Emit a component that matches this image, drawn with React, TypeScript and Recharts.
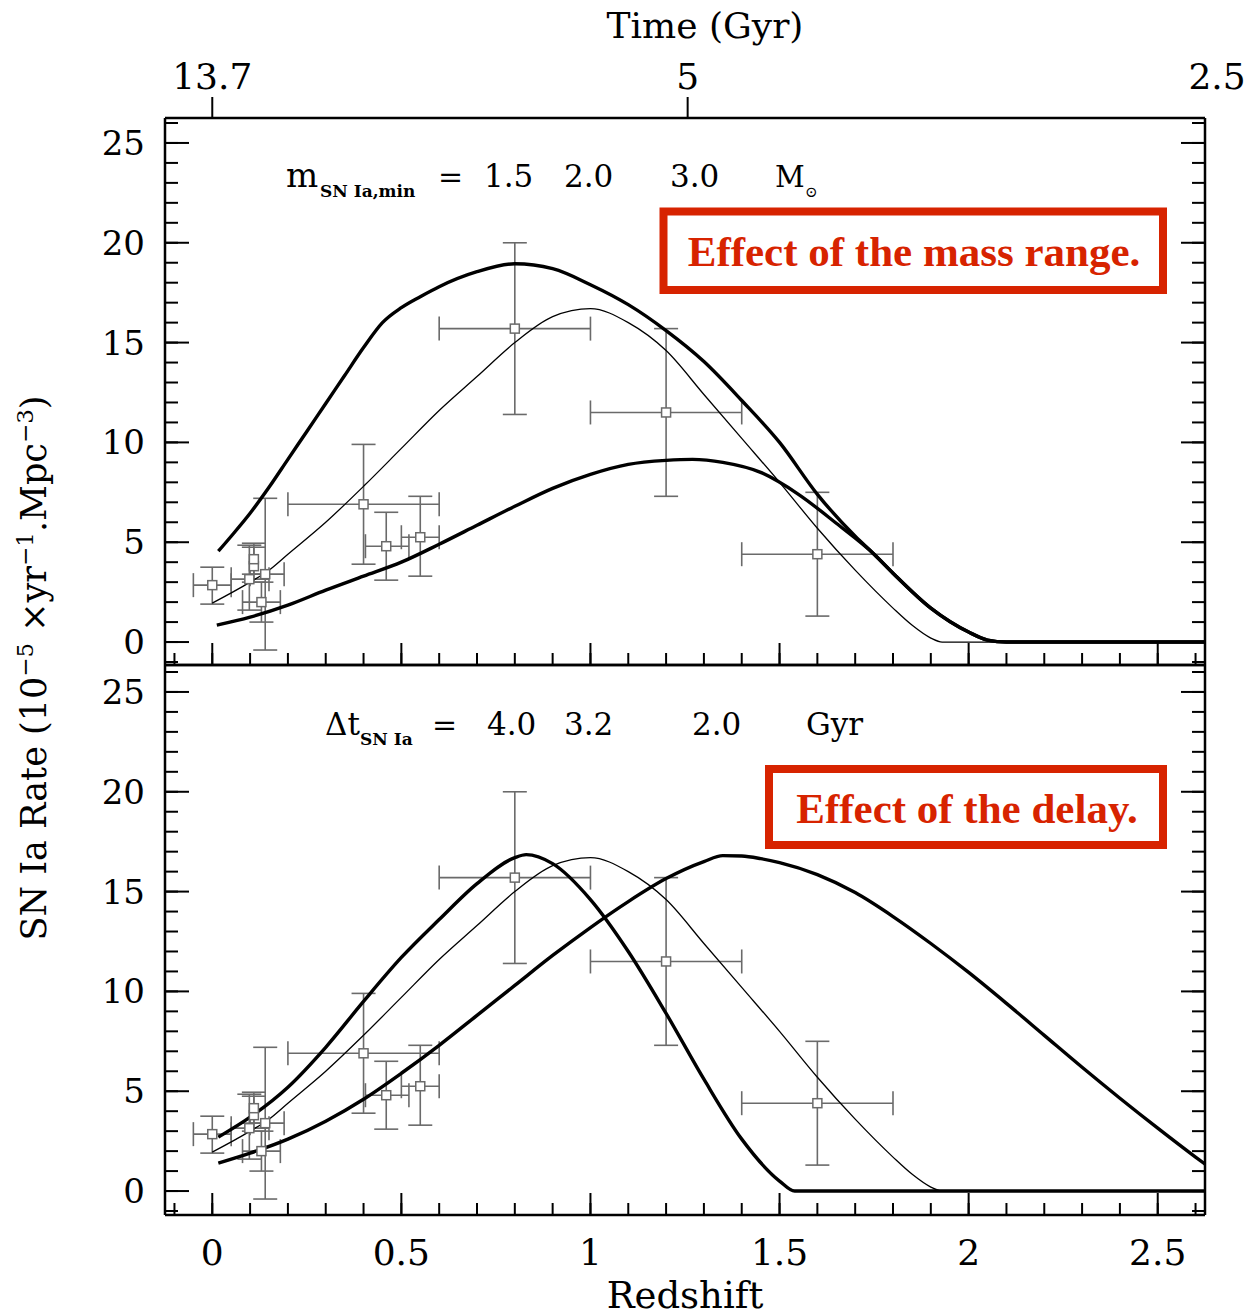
import React from 'react';
import { ComposedChart, Line, Scatter, XAxis, YAxis, ErrorBar } from 'recharts';

const FONT = "'DejaVu Serif', serif";
const RED = '#d72300';
const GRAY = '#6a6a6a';

// ---------- axes ----------
const redshiftDomain: [number, number] = [-0.125, 2.625];
const redshiftMajorTicks = [0, 0.5, 1, 1.5, 2, 2.5];
const redshiftMinorTicks = [-0.1, 0, 0.1, 0.2, 0.3, 0.4, 0.5, 0.6, 0.7, 0.8, 0.9, 1, 1.1, 1.2, 1.3, 1.4, 1.5, 1.6, 1.7, 1.8, 1.9, 2, 2.1, 2.2, 2.3, 2.4, 2.5, 2.6];
const timeTickRedshift = [0, 1.257, 2.657];
const timeTickLabels = ['13.7', '5', '2.5'];
const rateTopDomain: [number, number] = [-1.15, 26.25];
const rateBottomDomain: [number, number] = [-1.2, 26.35];
const rateMajorTicks = [0, 5, 10, 15, 20, 25];
const rateMinorTicks = [-1, 0, 1, 2, 3, 4, 5, 6, 7, 8, 9, 10, 11, 12, 13, 14, 15, 16, 17, 18, 19, 20, 21, 22, 23, 24, 25, 26];

// ---------- observations ----------
const obsRedshift = [0.0, 0.098, 0.11, 0.11, 0.14, 0.13, 0.4, 0.46, 0.55, 0.8, 1.2, 1.6];
const obsRate = [2.85, 3.15, 3.8, 4.15, 3.4, 2.0, 6.9, 4.8, 5.25, 15.7, 11.5, 4.4];
const obsRedshiftLow = [-0.05, 0.05, 0.11, 0.11, 0.1, 0.08, 0.2, 0.405, 0.5, 0.6, 1.0, 1.4];
const obsRedshiftHigh = [0.05, 0.15, 0.11, 0.11, 0.19, 0.18, 0.6, 0.52, 0.6, 1.0, 1.4, 1.8];
const obsRateLow = [1.9, 1.6, 3.0, 3.4, -0.4, 1.0, 3.9, 3.1, 3.3, 11.4, 7.3, 1.3];
const obsRateHigh = [3.75, 4.85, 4.75, 4.95, 7.2, 3.0, 9.9, 6.5, 7.3, 20.0, 15.7, 7.5];

// ---------- top panel models (m_SN Ia,min) ----------
const massA_z = [0.016, 0.05, 0.1, 0.15, 0.2, 0.25, 0.3, 0.35, 0.4, 0.45, 0.5, 0.55, 0.6, 0.7, 0.8, 0.9, 1.0, 1.1, 1.2, 1.3, 1.4, 1.5, 1.6, 1.7, 1.75, 1.8, 1.9, 2.0, 2.05, 2.1, 2.625];
const massA_rate = [4.55, 5.3, 6.45, 7.75, 9.15, 10.55, 11.95, 13.35, 14.75, 16.0, 16.75, 17.3, 17.8, 18.55, 18.95, 18.7, 17.9, 16.9, 15.6, 14.05, 12.1, 10.0, 7.4, 5.3, 4.4, 3.45, 1.7, 0.5, 0.1, 0, 0];
const massB_z = [0.0, 0.1, 0.15, 0.2, 0.3, 0.4, 0.5, 0.6, 0.7, 0.8, 0.9, 1.0, 1.1, 1.2, 1.3, 1.4, 1.5, 1.6, 1.7, 1.8, 1.85, 1.9, 1.93, 2.625];
const massB_rate = [1.95, 3.0, 3.6, 4.4, 6.0, 7.8, 9.7, 11.6, 13.3, 15.0, 16.3, 16.7, 16.0, 14.6, 12.4, 10.2, 8.0, 5.7, 3.6, 1.7, 0.85, 0.2, 0, 0];
const massC_z = [0.012, 0.1, 0.2, 0.3, 0.4, 0.5, 0.6, 0.7, 0.8, 0.9, 1.0, 1.1, 1.2, 1.27, 1.35, 1.45, 1.55, 1.65, 1.75, 1.8, 1.9, 2.0, 2.05, 2.1, 2.625];
const massC_rate = [0.85, 1.25, 1.85, 2.6, 3.3, 4.0, 4.9, 5.85, 6.8, 7.7, 8.4, 8.9, 9.1, 9.15, 9.0, 8.5, 7.4, 5.95, 4.4, 3.45, 1.7, 0.5, 0.1, 0, 0];

// ---------- bottom panel models (delay) ----------
const delay40_z = [0.016, 0.1, 0.2, 0.3, 0.4, 0.5, 0.6, 0.7, 0.8, 0.83, 0.9, 1.0, 1.1, 1.2, 1.3, 1.4, 1.5, 1.54, 2.625];
const delay40_rate = [2.7, 3.7, 5.2, 7.2, 9.5, 11.7, 13.6, 15.4, 16.7, 16.85, 16.4, 14.6, 12.0, 8.9, 5.6, 2.6, 0.5, 0, 0];
const delay32_z = massB_z;
const delay32_rate = massB_rate;
const delay20_z = [0.016, 0.1, 0.2, 0.3, 0.4, 0.5, 0.6, 0.7, 0.8, 0.9, 1.0, 1.1, 1.2, 1.3, 1.35, 1.4, 1.45, 1.5, 1.6, 1.7, 1.8, 1.9, 2.0, 2.1, 2.2, 2.3, 2.4, 2.5, 2.6, 2.625];
const delay20_rate = [1.4, 1.9, 2.6, 3.5, 4.6, 5.9, 7.3, 8.8, 10.3, 11.8, 13.2, 14.5, 15.65, 16.5, 16.8, 16.78, 16.65, 16.45, 15.85, 14.95, 13.75, 12.4, 10.95, 9.4, 7.8, 6.2, 4.65, 3.15, 1.7, 1.35];

const toSeries = (zs: number[], rs: number[]) => zs.map((z, i) => ({ z, y: rs[i] }));

const obsData = obsRedshift.map((z, i) => ({
  z,
  y: obsRate[i],
  zErr: obsRedshiftLow[i] === obsRedshiftHigh[i] ? null : [z - obsRedshiftLow[i], obsRedshiftHigh[i] - z],
  yErr: [obsRate[i] - obsRateLow[i], obsRateHigh[i] - obsRate[i]],
}));

const topCurves = [
  { data: toSeries(massA_z, massA_rate), width: 3.4 },
  { data: toSeries(massB_z, massB_rate), width: 1.3 },
  { data: toSeries(massC_z, massC_rate), width: 3.4 },
];
const bottomCurves = [
  { data: toSeries(delay40_z, delay40_rate), width: 3.4 },
  { data: toSeries(delay32_z, delay32_rate), width: 1.3 },
  { data: toSeries(delay20_z, delay20_rate), width: 3.4 },
];

const W = 1251;

const SquareShape = (props: any) => {
  const { cx, cy } = props;
  if (cx == null || cy == null) return <g />;
  return <rect x={cx - 4.5} y={cy - 4.5} width={9} height={9} fill="#fff" stroke={GRAY} strokeWidth={1.5} />;
};

const EmptyTick = () => <g />;

const TimeTick = (props: any) => {
  const { x, y, payload } = props;
  const idx = timeTickRedshift.indexOf(payload.value);
  const inside = payload.value <= redshiftDomain[1];
  return (
    <g>
      {inside && <line x1={x} x2={x} y1={y + 8} y2={y + 29} stroke="#000" strokeWidth={2} />}
      <text x={x} y={y} textAnchor="middle" fontFamily={FONT} fontSize={36} fill="#000">
        {timeTickLabels[idx]}
      </text>
    </g>
  );
};

const axisStroke = { stroke: '#000', strokeWidth: 2.5 };
const tickStroke = { stroke: '#000', strokeWidth: 2 };

const xCommon = {
  dataKey: 'z',
  type: 'number' as const,
  domain: redshiftDomain,
  allowDataOverflow: true,
  allowDuplicatedCategory: false,
  scale: 'linear' as const,
  interval: 0 as const,
};

function Panel(props: {
  height: number;
  margin: any;
  yDomain: [number, number];
  curves: { data: { z: number; y: number }[]; width: number }[];
  top: boolean;
}) {
  const { height, margin, yDomain, curves, top } = props;
  const yCommon = { type: 'number' as const, domain: yDomain, allowDataOverflow: true, interval: 0 as const };
  return (
    <div style={{ position: 'absolute', left: 0, top: 0, width: W, height }}>
      <ComposedChart width={W} height={height} margin={margin} data={obsData}>
        <XAxis {...xCommon} hide height={0} />
        <YAxis dataKey="y" {...yCommon} hide width={0} />

        {/* bottom frame ticks (inward) */}
        <XAxis {...xCommon} xAxisId="bMaj" orientation="bottom" mirror height={1}
          ticks={redshiftMajorTicks} tickSize={22} tick={<EmptyTick />} axisLine={axisStroke} tickLine={tickStroke} />
        <XAxis {...xCommon} xAxisId="bMin" orientation="bottom" mirror height={1}
          ticks={redshiftMinorTicks} tickSize={11} tick={<EmptyTick />} axisLine={false} tickLine={tickStroke} />
        {!top && (
          <XAxis {...xCommon} xAxisId="bLab" orientation="bottom" height={60}
            ticks={redshiftMajorTicks} tickSize={0} tickMargin={24} tickLine={false} axisLine={false}
            tick={{ fontSize: 36, fontFamily: FONT, fill: '#000' }} />
        )}
        {top ? (
          <XAxis {...xCommon} xAxisId="time" orientation="top" height={40}
            ticks={timeTickRedshift} tickSize={21} tickMargin={8} tickLine={false} axisLine={axisStroke}
            tick={<TimeTick />} />
        ) : (
          <XAxis {...xCommon} xAxisId="tLine" orientation="top" mirror height={1}
            ticks={[0]} tick={<EmptyTick />} tickLine={false} axisLine={axisStroke} />
        )}

        {/* left */}
        <YAxis {...yCommon} yAxisId="lab" orientation="left" width={60}
          ticks={rateMajorTicks} tickSize={0} tickMargin={20} tickLine={false} axisLine={axisStroke}
          tick={{ fontSize: 34, fontFamily: FONT, fill: '#000' }} />
        <YAxis {...yCommon} yAxisId="lMaj" orientation="left" mirror width={1}
          ticks={rateMajorTicks} tickSize={24} tick={<EmptyTick />} axisLine={false} tickLine={tickStroke} />
        <YAxis {...yCommon} yAxisId="lMin" orientation="left" mirror width={1}
          ticks={rateMinorTicks} tickSize={12} tick={<EmptyTick />} axisLine={false} tickLine={tickStroke} />
        {/* right */}
        <YAxis {...yCommon} yAxisId="rMaj" orientation="right" mirror width={1}
          ticks={rateMajorTicks} tickSize={24} tick={<EmptyTick />} axisLine={axisStroke} tickLine={tickStroke} />
        <YAxis {...yCommon} yAxisId="rMin" orientation="right" mirror width={1}
          ticks={rateMinorTicks} tickSize={12} tick={<EmptyTick />} axisLine={false} tickLine={tickStroke} />

        <Scatter data={obsData} dataKey="y" shape={<SquareShape />} isAnimationActive={false}>
          <ErrorBar dataKey="zErr" direction="x" width={12} stroke={GRAY} strokeWidth={1.6} isAnimationActive={false} />
          <ErrorBar dataKey="yErr" direction="y" width={12} stroke={GRAY} strokeWidth={1.6} isAnimationActive={false} />
        </Scatter>

        {curves.map((c, i) => (
          <Line key={i} data={c.data} dataKey="y" type="monotone" stroke="#000" strokeWidth={c.width}
            dot={false} activeDot={false} isAnimationActive={false} />
        ))}
      </ComposedChart>
    </div>
  );
}

const Annotations = () => (
  <svg width={W} height={1316} style={{ position: 'absolute', left: 0, top: 0, pointerEvents: 'none' }}>
    {/* top axis title */}
    <text x={705} y={38} textAnchor="middle" fontFamily={FONT} fontSize={36} fill="#000">Time (Gyr)</text>
    {/* bottom axis title */}
    <text x={685} y={1308} textAnchor="middle" fontFamily={FONT} fontSize={37} fill="#000">Redshift</text>
    {/* y axis title */}
    <text transform="translate(46,668) rotate(-90)" textAnchor="middle" fontFamily={FONT} fontSize={35} fill="#000">
      SN Ia Rate (10<tspan dy={-13} fontSize={23}>−5</tspan><tspan dy={13}> ×yr</tspan>
      <tspan dy={-13} fontSize={23}>−1</tspan><tspan dy={13}>.Mpc</tspan>
      <tspan dy={-13} fontSize={23}>−3</tspan><tspan dy={13}>)</tspan>
    </text>

    {/* top panel legend */}
    <g fontFamily={FONT} fill="#000">
      <text x={286} y={187} fontSize={34}>m</text>
      <text x={320} y={197} fontSize={17} fontWeight="bold">SN Ia,min</text>
      <text x={438} y={187} fontSize={30}>=</text>
      <text x={484} y={187} fontSize={31}>1.5</text>
      <text x={564} y={187} fontSize={31}>2.0</text>
      <text x={670} y={187} fontSize={31}>3.0</text>
      <text x={775} y={187} fontSize={29}>M</text>
      <text x={805} y={197} fontSize={15}>⊙</text>
    </g>
    {/* bottom panel legend */}
    <g fontFamily={FONT} fill="#000">
      <text x={325} y={735} fontSize={31}>Δt</text>
      <text x={360} y={745} fontSize={17} fontWeight="bold">SN Ia</text>
      <text x={432} y={735} fontSize={30}>=</text>
      <text x={487} y={735} fontSize={31}>4.0</text>
      <text x={564} y={735} fontSize={31}>3.2</text>
      <text x={692} y={735} fontSize={31}>2.0</text>
      <text x={806} y={735} fontSize={31}>Gyr</text>
    </g>

    {/* red callouts */}
    <rect x={663.5} y={211.5} width={499.5} height={78.5} fill="#fff" stroke={RED} strokeWidth={8} />
    <text x={914} y={266} textAnchor="middle" fontFamily="'Liberation Serif', serif" fontWeight="bold" fontSize={43} fill={RED}>
      Effect of the mass range.
    </text>
    <rect x={769} y={769} width={394} height={76} fill="#fff" stroke={RED} strokeWidth={8} />
    <text x={967} y={823} textAnchor="middle" fontFamily="'Liberation Serif', serif" fontWeight="bold" fontSize={43} fill={RED}>
      Effect of the delay.
    </text>
  </svg>
);

export default function App() {
  return (
    <div style={{ position: 'absolute', left: 0, top: 0, width: W, height: 1316, background: '#fff' }}>
      <Panel height={1316} margin={{ top: 665, right: 46, bottom: 41, left: 105 }} yDomain={rateBottomDomain} curves={bottomCurves} top={false} />
      <Panel height={700} margin={{ top: 78, right: 46, bottom: 35, left: 105 }} yDomain={rateTopDomain} curves={topCurves} top={true} />
      <Annotations />
    </div>
  );
}
